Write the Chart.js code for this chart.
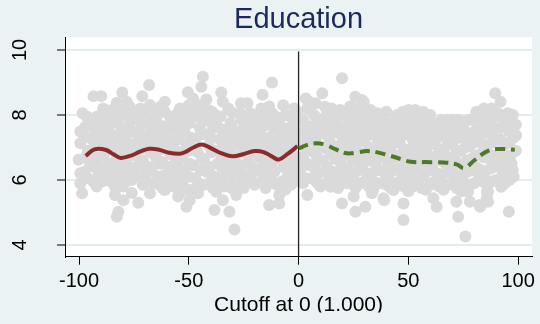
<!DOCTYPE html>
<html>
<head>
<meta charset="utf-8">
<script src="https://cdn.jsdelivr.net/npm/chart.js@4.4.1/dist/chart.umd.min.js"></script>
<style>
  html, body { margin: 0; padding: 0; background: #eaf2f3; }
  #chart { display: block; }
</style>
</head>
<body>
<canvas id="chart" width="540" height="324"></canvas>
<script>
// axes
const xTicks = [-100, -50, 0, 50, 100];
const yTicks = [4, 6, 8, 10];
const xRange = [-106.4, 106.4];
const yRange = [3.64, 10.39];
const cutoff = 0;
const cutoffTop = 9.95;

// fitted lines, left (solid) and right (dashed) of the cutoff
const fitLeftX = [-97, -93, -88, -84, -81, -76, -72, -68, -64, -59, -54, -51, -48, -44, -40, -35, -30, -25, -20, -16, -12, -9, -5, -0.5];
const fitLeftY = [6.74, 6.94, 6.93, 6.78, 6.68, 6.76, 6.88, 6.96, 6.94, 6.84, 6.81, 6.88, 7.0, 7.09, 6.98, 6.82, 6.73, 6.8, 6.89, 6.86, 6.72, 6.63, 6.8, 7.04];
const fitRightX = [0, 4, 8, 12, 17, 22, 27, 31, 36, 44, 51, 58, 66, 72, 75.5, 80, 85, 90, 98.5];
const fitRightY = [6.97, 7.08, 7.13, 7.09, 6.94, 6.82, 6.85, 6.89, 6.85, 6.70, 6.56, 6.55, 6.54, 6.48, 6.37, 6.6, 6.85, 6.95, 6.93];

// raw observations [x, y]
const scatterLeft = [
  [-68.1, 8.92], [-93.4, 8.58], [-89.9, 8.58], [-80.3, 8.69], [-71.2, 8.58], [-82.8, 8.38], [-78.3, 8.41],
  [-75.3, 8.10], [-60.9, 8.41], [-98.4, 8.05], [-67.7, 8.31], [-91.8, 7.95], [-87.3, 7.95], [-56.4, 7.95],
  [-99.4, 7.49], [-97.1, 7.64], [-99.4, 7.13], [-100.2, 6.62], [-99.4, 6.21], [-99.4, 5.90], [-98.6, 5.59],
  [-86.6, 6.31], [-83.6, 5.79], [-83.6, 5.54], [-79.8, 5.38], [-82.1, 5.02], [-82.8, 4.87], [-73, 5.30],
  [-67.7, 5.59], [-60.9, 5.69], [-54.9, 5.49], [-76, 6.0], [-63.9, 6.10], [-56.4, 6.31],
  [-43.6, 9.18], [-44.3, 8.87], [-50.4, 8.70], [-12.1, 9.0], [-35.2, 8.69], [-42, 8.48], [-26.2, 8.36],
  [-16.4, 8.62], [-34.5, 8.41], [-13.4, 8.26], [-47.3, 8.26], [-30, 8.07], [-3.5, 7.95], [-0.5, 8.10],
  [-52.6, 7.85], [-20.9, 8.0], [-23.3, 8.36], [-49.6, 5.38], [-51.1, 5.18], [-45.8, 5.59], [-38.3, 5.08],
  [-31.5, 5.02], [-29.2, 4.48], [-37.5, 5.64], [-28.4, 5.54], [-34.5, 5.38], [-13.4, 5.23], [-8.8, 5.28],
  [-5.8, 5.85], [-8.8, 5.54], [-21.6, 6.15], [-25.4, 6.05], [-14.1, 5.90], [-2, 6.51], [-17.9, 7.33], [-54.1, 5.59],
  [-96, 6.05], [-95, 6.45], [-96, 6.9], [-95, 7.3], [-94, 7.75],
  [-92, 5.8], [-91, 6.2], [-92, 6.6], [-90, 7.05], [-91, 7.45], [-89, 8.2],
  [-88, 6.0], [-87, 6.45], [-88, 6.85], [-86, 7.2], [-87, 7.6],
  [-84, 6.1], [-83, 6.65], [-84, 7.0], [-82, 7.4], [-83, 7.85], [-80, 8.1],
  [-80, 5.8], [-79, 6.2], [-80, 6.5], [-78, 6.95], [-79, 7.25], [-77, 7.7],
  [-76, 5.6], [-75, 6.35], [-74, 6.75], [-75, 7.1], [-73, 7.5], [-74, 7.9], [-72, 8.2],
  [-71, 5.85], [-70, 6.2], [-71, 6.6], [-69, 7.05], [-70, 7.35], [-68, 7.75], [-70, 8.05],
  [-66, 5.9], [-67, 6.3], [-65, 6.7], [-66, 7.1], [-64, 7.45], [-65, 7.85], [-63, 8.25],
  [-62, 5.75], [-61, 6.15], [-62, 6.55], [-60, 6.95], [-61, 7.3], [-59, 7.7], [-61, 8.1],
  [-57, 5.8], [-58, 6.2], [-56, 6.6], [-57, 7.0], [-55, 7.35], [-56, 7.65], [-54, 8.2],
  [-53, 5.9], [-52, 6.3], [-53, 6.7], [-51, 7.1], [-52, 7.5], [-50, 8.0], [-48, 8.5],
  [-48, 5.7], [-47, 6.05], [-48, 6.45], [-46, 6.85], [-47, 7.25], [-45, 7.6], [-46, 7.95], [-45, 8.3],
  [-43, 5.85], [-42, 6.25], [-43, 6.65], [-41, 7.05], [-42, 7.4], [-40, 7.8], [-41, 8.15],
  [-39, 5.75], [-38, 6.1], [-37, 6.5], [-38, 6.9], [-36, 7.25], [-37, 7.65], [-38, 8.0],
  [-34, 5.8], [-33, 6.2], [-34, 6.6], [-32, 7.0], [-33, 7.4], [-31, 7.75], [-32, 8.2],
  [-29, 5.9], [-28, 6.3], [-29, 6.7], [-27, 7.1], [-28, 7.45], [-26, 7.85],
  [-25, 5.75], [-24, 6.15], [-23, 6.55], [-24, 6.95], [-22, 7.35], [-23, 7.7], [-22, 8.05],
  [-20, 5.85], [-19, 6.3], [-18, 6.7], [-20, 7.05], [-18, 7.45], [-19, 7.8], [-17, 8.2],
  [-15, 5.75], [-14, 6.2], [-15, 6.55], [-13, 6.95], [-14, 7.3], [-13, 7.7], [-12, 8.05],
  [-10, 5.85], [-11, 6.25], [-9, 6.65], [-10, 7.05], [-8, 7.4], [-9, 7.8], [-7, 8.3],
  [-6, 5.7], [-5, 6.1], [-6, 6.45], [-4, 6.9], [-5, 7.25], [-4, 7.6],
  [-2, 5.95], [-1, 6.3], [-2, 6.75], [-1, 7.15], [-2, 7.5], [-1, 7.8]
];
const scatterLeftFill = [
  [-97.5, 6.25], [-97, 6.7], [-97.5, 7.35], [-96.5, 7.95],
  [-93.5, 5.95], [-93, 6.4], [-94, 6.8], [-93, 7.15], [-92.5, 7.55],
  [-89.5, 5.95], [-90, 6.35], [-89, 6.75], [-88.5, 7.3], [-89.5, 7.7], [-88, 8.0],
  [-85.5, 5.95], [-86, 6.5], [-85, 6.95], [-85.5, 7.4], [-84.5, 7.75], [-85, 8.15],
  [-81.5, 5.95], [-82, 6.35], [-81, 6.85], [-81.5, 7.2], [-80.5, 7.6], [-81, 7.95],
  [-77.5, 6.0], [-77, 6.4], [-76.5, 6.75], [-77, 7.45], [-76, 7.9], [-77, 8.25],
  [-73, 6.1], [-72.5, 6.5], [-72, 6.95], [-72.5, 7.3], [-71.5, 7.7], [-72.5, 8.0],
  [-68.5, 5.95], [-68, 6.4], [-67.5, 6.85], [-68, 7.25], [-67, 7.6], [-67.5, 8.05],
  [-63.5, 5.85], [-63, 6.5], [-62.5, 6.95], [-63, 7.3], [-62, 7.65], [-63.5, 8.05],
  [-59.5, 5.95], [-59, 6.4], [-58.5, 6.8], [-59, 7.2], [-58, 7.55], [-58.5, 7.95],
  [-55, 5.75], [-54.5, 6.05], [-55, 6.45], [-54, 6.85], [-54.5, 7.25], [-53.5, 7.7], [-55, 8.05],
  [-50.5, 5.7], [-50, 6.1], [-49.5, 6.5], [-50, 6.9], [-49, 7.3], [-49.5, 7.75], [-50, 8.3],
  [-45.5, 5.9], [-44.5, 6.3], [-44, 6.65], [-44.5, 7.4], [-43.5, 7.8], [-43, 8.1],
  [-40, 5.95], [-40.5, 6.4], [-39.5, 6.85], [-40, 7.3], [-39, 7.6], [-39.5, 8.1],
  [-35.5, 5.95], [-35, 6.4], [-35.5, 6.8], [-34.5, 7.15], [-35, 7.55], [-35.5, 7.95],
  [-30.5, 5.75], [-31, 6.1], [-30.5, 6.5], [-31, 6.9], [-30, 7.3], [-30.5, 7.65],
  [-26.5, 5.95], [-26, 6.45], [-25.5, 6.85], [-26, 7.25], [-25, 7.6], [-26.5, 8.05],
  [-21.5, 5.95], [-21, 6.4], [-20.5, 6.85], [-21.5, 7.2], [-20.5, 7.6], [-21, 7.9],
  [-16.5, 6.0], [-16, 6.45], [-16.5, 6.9], [-15.5, 7.2], [-16, 7.65], [-15.5, 8.0],
  [-12, 5.95], [-12.5, 6.45], [-11.5, 6.8], [-12, 7.2], [-11, 7.55], [-10.5, 7.95],
  [-7.5, 5.95], [-7, 6.4], [-7.5, 6.85], [-6.5, 7.2], [-7, 7.6], [-6, 8.0],
  [-3.5, 5.85], [-3, 6.2], [-3.5, 6.6], [-3, 7.05], [-3.5, 7.4], [-2.5, 7.75], [-2, 8.2]
];
const scatterRight = [
  [19.8, 9.13], [10.8, 8.67], [3.3, 8.51], [25.9, 8.56], [28.9, 8.46], [7.8, 8.36], [44.7, 8.0], [50, 8.15],
  [38.7, 7.69], [4, 5.54], [19.8, 5.28], [25.9, 5.02], [30.4, 5.18], [25.1, 5.49], [38.7, 5.44], [47.8, 5.28],
  [47.8, 4.77], [33.4, 5.59], [14.6, 5.79], [1, 6.0], [43.3, 5.69], [9.3, 5.85], [22.9, 6.31], [50, 6.05],
  [23.5, 8.26], [29.7, 8.4], [32.8, 8.15], [15, 8.2], [40, 8.1], [39, 5.38], [85.8, 5.44], [82.7, 5.18], [85.8, 5.64],
  [89.6, 8.67], [92, 8.41], [81, 8.10], [86.3, 8.05], [90.8, 8.05], [95.3, 8.05], [97.6, 8.0], [53.1, 8.15],
  [56.8, 8.10], [65.1, 7.85], [72.7, 7.85], [59.1, 7.69], [99.1, 7.38], [53.1, 7.38], [97.6, 6.31], [92.3, 5.79],
  [86.3, 5.64], [61.4, 5.44], [62.9, 5.18], [71.9, 5.33], [78, 5.33], [82.5, 5.23], [86.3, 5.33], [72.7, 4.87],
  [95.8, 5.02], [76, 4.26], [75, 5.95], [77.2, 5.64], [69.7, 6.21], [93.8, 6.72],
  [2, 5.9], [1, 6.35], [2, 6.7], [3, 7.1], [1, 7.45], [2, 7.85], [4, 8.2],
  [6, 6.05], [5, 6.45], [7, 6.85], [6, 7.3], [5, 7.65], [7, 8.0],
  [10, 5.8], [9, 6.2], [11, 6.6], [10, 7.0], [9, 7.4], [11, 7.8], [12, 8.25],
  [14, 6.0], [13, 6.4], [15, 6.8], [14, 7.2], [16, 7.55], [14, 7.95],
  [18, 5.75], [17, 6.15], [19, 6.55], [18, 6.95], [20, 7.35], [17, 7.75], [19, 8.15],
  [22, 5.9], [21, 6.35], [23, 6.75], [22, 7.15], [24, 7.5], [22, 7.9],
  [26, 5.75], [25, 6.15], [27, 6.6], [26, 7.0], [28, 7.4], [26, 7.8], [27, 8.2],
  [30, 5.95], [29, 6.4], [31, 6.8], [30, 7.2], [32, 7.6], [30, 7.95],
  [34, 5.7], [33, 6.1], [35, 6.5], [34, 6.95], [36, 7.3], [34, 7.7], [36, 8.05],
  [38, 5.9], [37, 6.3], [39, 6.7], [38, 7.1], [40, 7.5], [38, 7.9],
  [42, 5.75], [41, 6.15], [43, 6.55], [42, 7.0], [44, 7.35], [42, 7.75],
  [46, 5.95], [45, 6.35], [47, 6.75], [46, 7.15], [48, 7.55], [46, 7.9],
  [50, 5.65], [49, 6.05], [51, 6.45], [50, 6.85], [52, 7.25], [50, 7.65], [51, 7.95],
  [54, 5.9], [53, 6.3], [55, 6.7], [54, 7.1], [56, 7.5], [54, 7.85],
  [58, 5.7], [57, 6.1], [59, 6.5], [58, 6.9], [60, 7.3], [58, 7.7], [60, 8.0],
  [62, 5.95], [61, 6.35], [63, 6.75], [62, 7.15], [64, 7.55],
  [66, 5.7], [65, 6.05], [67, 6.5], [66, 6.9], [68, 7.3], [66, 7.7],
  [70, 5.9], [69, 6.3], [71, 6.7], [70, 7.1], [72, 7.5], [70, 7.85],
  [74, 5.65], [73, 6.05], [75, 6.45], [74, 6.9], [76, 7.3], [74, 7.65],
  [78, 5.85], [77, 6.25], [79, 6.65], [78, 7.05], [80, 7.45], [78, 7.85],
  [82, 6.0], [81, 6.4], [83, 6.8], [82, 7.2], [84, 7.6], [82, 7.95],
  [86, 5.85], [85, 6.25], [87, 6.65], [86, 7.05], [88, 7.45], [86, 7.85], [88, 8.2],
  [90, 6.0], [89, 6.4], [91, 6.8], [90, 7.2], [92, 7.6], [90, 7.95],
  [94, 5.9], [93, 6.3], [95, 6.7], [94, 7.1], [96, 7.5], [94, 7.85],
  [98, 6.1], [97, 6.5], [99, 6.9], [98, 7.3], [99, 7.7]
];
const scatterRightFill = [
  [3.5, 6.05], [4, 6.5], [3.5, 6.9], [4, 7.3], [3.5, 7.65], [5, 8.4],
  [8, 5.95], [7.5, 6.35], [8.5, 6.7], [8, 7.15], [7.5, 7.55], [8.5, 7.9],
  [12.5, 5.9], [12, 6.25], [13, 6.95], [12.5, 7.4], [12, 7.7], [13, 8.05],
  [16, 5.85], [15.5, 6.25], [16.5, 6.65], [16, 7.05], [17.5, 7.45], [16, 7.95],
  [20, 6.05], [19.5, 6.4], [20.5, 6.8], [20, 7.15], [21, 7.6], [20, 8.0],
  [24, 5.9], [23.5, 6.2], [24.5, 6.6], [24, 7.0], [25, 7.35], [24, 7.7], [24.5, 8.05],
  [28, 5.9], [27.5, 6.3], [28.5, 6.8], [28, 7.2], [29, 7.6], [28, 7.95],
  [32, 5.8], [31.5, 6.2], [32.5, 6.6], [32, 7.0], [33, 7.4], [32, 7.8], [31.5, 8.1],
  [36, 5.9], [35.5, 6.3], [36.5, 6.75], [36, 7.1], [37, 7.5], [35.5, 7.9],
  [40, 5.85], [39.5, 6.2], [40.5, 6.55], [40, 6.95], [41, 7.3], [40, 7.75],
  [44, 5.9], [43.5, 6.3], [44.5, 6.75], [44, 7.15], [45, 7.55], [44, 7.85],
  [48, 5.8], [47.5, 6.2], [48.5, 6.55], [48, 6.95], [49, 7.4], [48, 7.8], [47.5, 8.1],
  [52, 5.8], [51.5, 6.2], [52.5, 6.65], [52, 7.0], [53, 7.45], [52, 7.8],
  [56, 5.75], [55.5, 6.2], [56.5, 6.55], [56, 6.95], [57, 7.3], [56, 7.7], [55.5, 7.95],
  [60, 5.85], [59.5, 6.3], [60.5, 6.7], [60, 7.1], [61, 7.5], [60, 7.8],
  [64, 5.8], [63.5, 6.2], [64.5, 6.6], [64, 6.95], [65, 7.35], [64, 7.75],
  [68, 5.85], [67.5, 6.25], [68.5, 6.7], [68, 7.1], [69, 7.5], [68, 7.85],
  [72, 5.75], [71.5, 6.15], [72.5, 6.5], [72, 6.9], [73, 7.3], [72, 7.7],
  [76, 5.8], [75.5, 6.2], [76.5, 6.6], [76, 7.0], [77, 7.45], [76, 7.8],
  [80, 5.9], [79.5, 6.3], [80.5, 6.75], [80, 7.15], [81, 7.55], [80, 7.9],
  [84, 5.95], [83.5, 6.3], [84.5, 6.7], [84, 7.1], [85, 7.45], [84, 7.8], [84.5, 8.2],
  [88, 5.95], [87.5, 6.35], [88.5, 6.75], [88, 7.15], [89, 7.6], [88, 7.85],
  [92, 6.05], [91.5, 6.45], [92.5, 6.85], [92, 7.25], [93, 7.65], [92, 8.0],
  [96, 6.0], [95.5, 6.35], [96.5, 6.75], [96, 7.15], [97, 7.55], [96, 7.9]
];

const bgColor = '#eaf2f3';
const fontFamily = "'Liberation Sans', Arial, sans-serif";

const toPoints = (xs, ys) => xs.map((x, i) => ({ x, y: ys[i] }));
const fromPairs = (arr) => arr.map(([x, y]) => ({ x, y }));

// graph region + white plot region
const plotBackground = {
  id: 'plotBackground',
  beforeDraw(chart) {
    const { ctx, chartArea: a } = chart;
    ctx.save();
    ctx.fillStyle = bgColor;
    ctx.fillRect(0, 0, chart.width, chart.height);
    ctx.fillStyle = '#ffffff';
    ctx.fillRect(a.left, a.top, a.right - a.left, a.bottom - a.top);
    ctx.restore();
  }
};

// the original export cuts the axis title off at the bottom
const bottomCrop = {
  id: 'bottomCrop',
  afterDraw(chart) {
    const { ctx } = chart;
    ctx.save();
    ctx.fillStyle = bgColor;
    ctx.fillRect(0, 312.5, chart.width, chart.height - 312.5);
    ctx.restore();
  }
};

Chart.defaults.font.family = fontFamily;

const allPoints = [scatterLeft, scatterLeftFill, scatterRight, scatterRightFill].flatMap(fromPairs);

new Chart(document.getElementById('chart'), {
  type: 'scatter',
  data: {
    datasets: [
      {
        type: 'line',
        data: toPoints(fitLeftX, fitLeftY),
        borderColor: '#8b2c2c',
        borderWidth: 4,
        pointRadius: 0,
        tension: 0.4,
        order: 1,
      },
      {
        type: 'line',
        data: toPoints(fitRightX, fitRightY),
        borderColor: '#4e7a27',
        borderWidth: 4,
        borderDash: [10, 6],
        pointRadius: 0,
        tension: 0.4,
        order: 1,
      },
      {
        type: 'line',
        data: [{ x: cutoff, y: yRange[0] }, { x: cutoff, y: cutoffTop }],
        borderColor: '#222222',
        borderWidth: 1.3,
        pointRadius: 0,
        order: 2,
      },
      {
        data: allPoints,
        backgroundColor: '#dadada',
        borderWidth: 0,
        pointRadius: 6,
        order: 3,
      },
    ],
  },
  options: {
    responsive: false,
    animation: false,
    devicePixelRatio: 1,
    layout: { padding: { top: 0, right: 5, bottom: 0, left: 0 } },
    plugins: {
      legend: { display: false },
      tooltip: { enabled: false },
      title: {
        display: true,
        text: 'Education',
        fullSize: false,
        color: '#1c2a5a',
        font: { size: 29, weight: 'normal' },
        padding: { top: 2.5, bottom: 0 },
      },
    },
    scales: {
      x: {
        type: 'linear',
        min: xRange[0],
        max: xRange[1],
        afterBuildTicks: (s) => { s.ticks = xTicks.map((v) => ({ value: v })); },
        afterFit: (s) => { s.height = 67.3; },
        ticks: { padding: 5, maxRotation: 0, color: '#000', font: { size: 20 } },
        grid: { drawOnChartArea: false, tickColor: '#000', tickLength: 8, tickWidth: 1 },
        border: { color: '#000', width: 1 },
        title: {
          display: true,
          text: 'Cutoff at 0 (1.000)',
          color: '#000',
          font: { size: 21 },
          padding: { top: 0, bottom: 6 },
        },
      },
      y: {
        type: 'linear',
        min: yRange[0],
        max: yRange[1],
        afterBuildTicks: (s) => { s.ticks = yTicks.map((v) => ({ value: v })); },
        afterFit: (s) => { s.width = 65; },
        ticks: {
          minRotation: 90,
          maxRotation: 90,
          crossAlign: 'center',
          padding: 25,
          color: '#000',
          font: { size: 20 },
        },
        grid: { color: '#e3ecef', lineWidth: 2, tickColor: '#000', tickLength: 8, tickWidth: 1 },
        border: { color: '#000', width: 1 },
      },
    },
  },
  plugins: [plotBackground, bottomCrop],
});
</script>
</body>
</html>
